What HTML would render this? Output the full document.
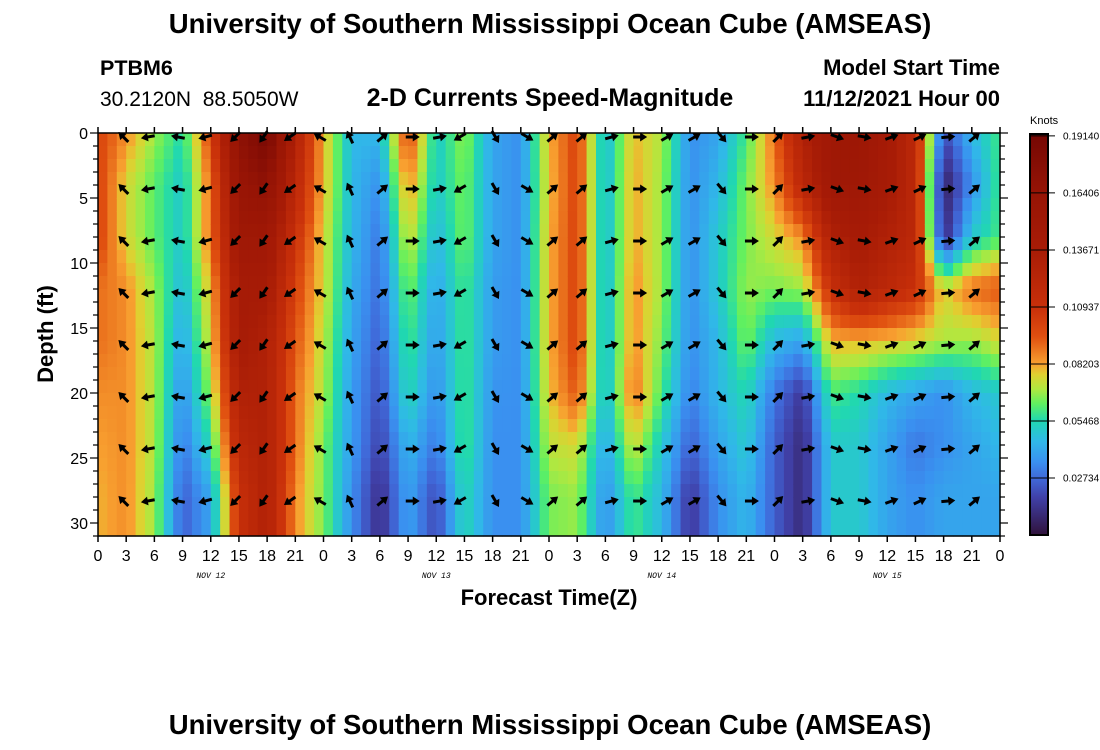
<!DOCTYPE html>
<html><head><meta charset="utf-8">
<style>
body{margin:0;background:#fff;width:1100px;height:750px;overflow:hidden;font-family:"Liberation Sans",sans-serif;}
svg{position:absolute;left:0;top:0}
</style></head>
<body>
<svg id="chart" width="1100" height="750" xmlns="http://www.w3.org/2000/svg">
<text x="550" y="33" text-anchor="middle" font-size="27.5" font-weight="bold">University of Southern Mississippi Ocean Cube (AMSEAS)</text>
<text x="100" y="75" font-size="21.5" font-weight="bold">PTBM6</text>
<text x="100" y="106" font-size="21" style="white-space:pre">30.2120N  88.5050W</text>
<text x="550" y="106" text-anchor="middle" font-size="25" font-weight="bold">2-D Currents Speed-Magnitude</text>
<text x="1000" y="75" text-anchor="end" font-size="22" font-weight="bold">Model Start Time</text>
<text x="1000" y="106" text-anchor="end" font-size="22" font-weight="bold">11/12/2021 Hour 00</text>
<text transform="translate(53,334) rotate(-90)" text-anchor="middle" font-size="22" font-weight="bold">Depth (ft)</text>
<text x="549" y="605" text-anchor="middle" font-size="22" font-weight="bold">Forecast Time(Z)</text>
<text x="550" y="734" text-anchor="middle" font-size="27.5" font-weight="bold">University of Southern Mississippi Ocean Cube (AMSEAS)</text>
<text x="1030" y="124" font-size="11">Knots</text>
<g id="heat"></g>
<g id="arrows"></g>
<g id="axes"></g>
<g id="cbar"></g>
</svg>
<script>
const hours = [0,3,6,9,12,15,18,21,24,27,30,33,36,39,42,45,48,51,54,57,60,63,66,69,72,75,78,81,84,87,90,93,96];
const depths = [0,4,8,12,16,20,24,28];
const speedD0  = [.10,.085,.068,.055,.10,.17,.19,.13,.08,.045,.045,.10,.05,.068,.04,.035,.08,.10,.045,.08,.07,.035,.04,.06,.09,.13,.15,.155,.14,.12,.02,.045,.06];
const speedD4  = [.10,.075,.062,.05,.09,.16,.17,.12,.08,.045,.035,.085,.05,.065,.04,.035,.078,.10,.045,.082,.068,.035,.045,.065,.085,.12,.15,.15,.14,.12,.005,.035,.06];
const speedD8  = [.10,.075,.062,.05,.09,.15,.15,.11,.075,.045,.03,.075,.045,.065,.04,.035,.08,.10,.045,.082,.068,.035,.05,.065,.075,.085,.13,.14,.13,.12,.01,.05,.06];
const speedD12 = [.09,.085,.068,.045,.08,.14,.14,.10,.075,.042,.028,.065,.04,.06,.038,.035,.08,.10,.045,.085,.068,.035,.05,.068,.065,.068,.11,.13,.12,.11,.075,.09,.095];
const speedD16 = [.09,.085,.07,.04,.075,.14,.13,.095,.072,.04,.025,.06,.038,.06,.038,.035,.08,.10,.045,.085,.065,.035,.045,.065,.045,.04,.08,.08,.078,.075,.07,.068,.075];
const speedD20 = [.085,.085,.07,.035,.068,.13,.13,.09,.07,.038,.022,.055,.035,.06,.036,.035,.078,.095,.045,.09,.06,.032,.045,.055,.03,.015,.06,.055,.045,.04,.035,.045,.05];
const speedD24 = [.082,.085,.07,.03,.055,.12,.13,.09,.065,.038,.018,.045,.03,.06,.035,.035,.072,.075,.04,.075,.05,.025,.04,.05,.025,.01,.05,.05,.04,.03,.035,.04,.045];
const speedD28 = [.08,.085,.068,.025,.04,.11,.13,.085,.065,.035,.012,.04,.02,.055,.035,.035,.065,.068,.035,.06,.045,.015,.035,.045,.025,.01,.05,.05,.04,.035,.04,.04,.04];
const speedRows = [speedD0,speedD4,speedD8,speedD12,speedD16,speedD20,speedD24,speedD28];
const arrowTimes = [2.7,5.3,8.5,11.4,14.6,17.6,20.4,23.6,26.8,30.3,33.5,36.4,38.5,42.3,45.7,48.4,51.5,54.7,57.7,60.6,63.5,66.4,69.6,72.4,75.6,78.7,81.6,84.5,87.5,90.5,93.3];
const arrowAngles = [135,190,170,195,225,235,215,150,115,40,0,10,210,300,330,40,40,15,0,30,30,310,0,45,10,340,350,20,25,5,40];
const arrowDepths = [0,4,8,12,16,20,24,28];
const xTicks = [0,3,6,9,12,15,18,21,0,3,6,9,12,15,18,21,0,3,6,9,12,15,18,21,0,3,6,9,12,15,18,21,0];
const yTicks = [0,5,10,15,20,25,30];
const dayLabels = ["NOV 12","NOV 13","NOV 14","NOV 15"];
const cbarTicks = ["0.19140","0.16406","0.13671","0.10937","0.08203","0.05468","0.02734"];

const NS="http://www.w3.org/2000/svg";
const X0=98,X1=1000,Y0=133,Y1=536,TMAX=96,DMAX=31,VMAX=0.1914;
const xs=h=>X0+(X1-X0)*h/TMAX;
const ys=d=>Y0+(Y1-Y0)*d/DMAX;
const stops=[[0,[48,18,59]],[0.018,[64,64,168]],[0.027,[64,104,216]],[0.035,[58,144,240]],[0.045,[48,184,232]],[0.055,[32,216,176]],[0.063,[96,240,96]],[0.07,[176,232,64]],[0.077,[224,208,48]],[0.082,[248,160,48]],[0.095,[224,80,16]],[0.109,[200,48,10]],[0.137,[168,28,6]],[0.164,[150,20,5]],[0.1914,[118,8,4]]];
function col(v){
  v=Math.max(0,Math.min(VMAX,v));
  for(let i=1;i<stops.length;i++){
    if(v<=stops[i][0]){const a=stops[i-1],b=stops[i];const t=(v-a[0])/(b[0]-a[0]);
      const c=a[1].map((x,k)=>Math.round(x+(b[1][k]-x)*t));return `rgb(${c})`;}
  }
  return 'rgb(118,8,4)';
}
function mk(tag,attrs,parent){const e=document.createElementNS(NS,tag);for(const k in attrs)e.setAttribute(k,attrs[k]);parent.appendChild(e);return e;}
function sample(h,d){
  let i=0;while(i<hours.length-2&&h>hours[i+1])i++;
  const tx=Math.max(0,Math.min(1,(h-hours[i])/(hours[i+1]-hours[i])));
  let j=0;while(j<depths.length-2&&d>depths[j+1])j++;
  const ty=Math.max(0,Math.min(1,(d-depths[j])/(depths[j+1]-depths[j])));
  const a=speedRows[j][i],b=speedRows[j][i+1],c=speedRows[j+1][i],e=speedRows[j+1][i+1];
  return (a*(1-tx)+b*tx)*(1-ty)+(c*(1-tx)+e*tx)*ty;
}
const heat=document.getElementById('heat');
for(let h=0;h<96;h++){for(let d=0;d<31;d++){
  const r=mk('rect',{x:xs(h).toFixed(2),y:ys(d).toFixed(2),width:(xs(h+1)-xs(h)+0.6).toFixed(2),height:(ys(d+1)-ys(d)+0.6).toFixed(2),fill:col(sample(h+0.5,d+0.5))},heat);
  
  
}}
const ar=document.getElementById('arrows');
arrowTimes.forEach((t,i)=>{arrowDepths.forEach(d=>{
  const cx=xs(t),cy=ys(d)+4,a=arrowAngles[i]*Math.PI/180,L=7;
  const dx=Math.cos(a),dy=-Math.sin(a);
  const g=mk('g',{},ar);
  
  
  const tx=cx+dx*L,ty=cy+dy*L;
  mk('line',{x1:cx-dx*L,y1:cy-dy*L,x2:tx-dx*3,y2:ty-dy*3,stroke:'#000','stroke-width':3},g);
  const px=-dy,py=dx;
  mk('polygon',{points:`${tx},${ty} ${tx-dx*7+px*4.5},${ty-dy*7+py*4.5} ${tx-dx*7-px*4.5},${ty-dy*7-py*4.5}`,fill:'#000'},g);
});});
const ax=document.getElementById('axes');
mk('rect',{x:X0,y:Y0,width:X1-X0,height:Y1-Y0,fill:'none',stroke:'#000','stroke-width':1.5},ax);
xTicks.forEach((lab,i)=>{const x=xs(i*3);
  mk('line',{x1:x,y1:Y1,x2:x,y2:Y1+6,stroke:'#000','stroke-width':1.5},ax);
  mk('line',{x1:x,y1:Y0,x2:x,y2:Y0-6,stroke:'#000','stroke-width':1.5},ax);
  const t=mk('text',{x:x,y:Y1+25,'text-anchor':'middle','font-size':16},ax);t.textContent=lab;
  
  
});
dayLabels.forEach((lab,i)=>{const t=mk('text',{x:xs(12+24*i),y:578,'text-anchor':'middle','font-size':8,'font-style':'italic','font-family':'Liberation Mono, monospace'},ax);t.textContent=lab;
  
  
});
for(let d=0;d<=31;d++){const y=ys(d),L=d%5==0?8:5;
  mk('line',{x1:X0-L,y1:y,x2:X0,y2:y,stroke:'#000','stroke-width':1.2},ax);
  mk('line',{x1:X1,y1:y,x2:X1+L,y2:y,stroke:'#000','stroke-width':1.2},ax);}
yTicks.forEach(v=>{const t=mk('text',{x:X0-10,y:ys(v)+6,'text-anchor':'end','font-size':16},ax);t.textContent=v;
  
  
});
const cb=document.getElementById('cbar');
const CX=1030,CW=18,CB0=535,CPX=2085;
for(let y=135;y<535;y++){const v=(CB0-y-0.5)/CPX;mk('rect',{x:CX,y:y,width:CW,height:1.2,fill:col(v)},cb);}
mk('rect',{x:CX,y:134,width:CW,height:401,fill:'none',stroke:'#000','stroke-width':2},cb);
cbarTicks.forEach(s=>{const y=CB0-parseFloat(s)*CPX;
  mk('line',{x1:CX,y1:y,x2:CX+CW+7,y2:y,stroke:'#000','stroke-width':1},cb);
  const t=mk('text',{x:1063,y:y+3.5,'font-size':10},cb);t.textContent=s;
  
  
});
</script>
</body></html>
